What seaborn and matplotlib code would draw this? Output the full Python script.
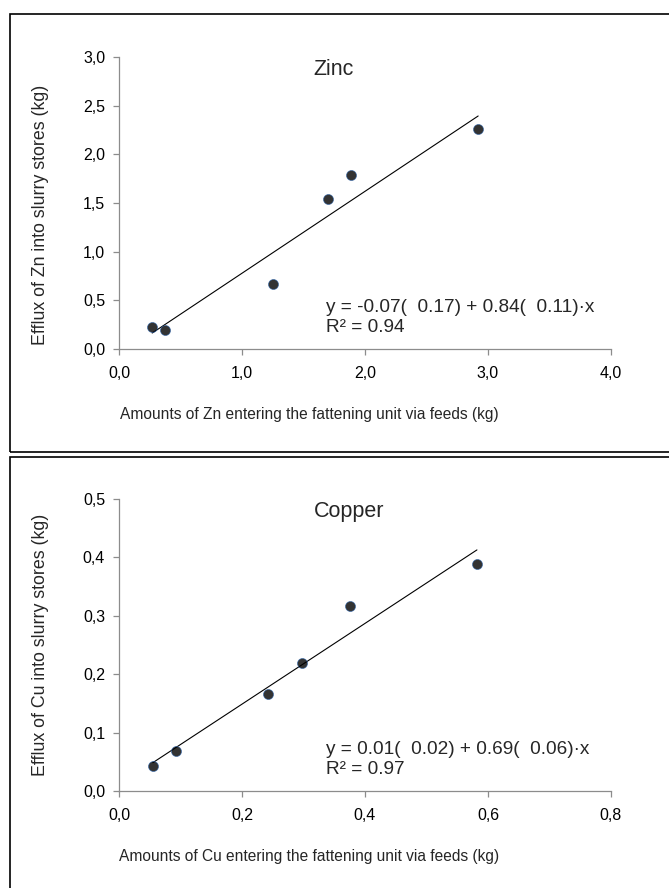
import matplotlib
matplotlib.use("Agg")
import numpy as np
import seaborn as sns
import matplotlib.pyplot as plt
from matplotlib.patches import Rectangle
from matplotlib.ticker import FuncFormatter

# data (kg)
zn_feed = [0.27, 0.37, 1.25, 1.70, 1.89, 2.92]
zn_slurry = [0.23, 0.20, 0.67, 1.54, 1.79, 2.26]
cu_feed = [0.055, 0.092, 0.242, 0.298, 0.376, 0.582]
cu_slurry = [0.042, 0.068, 0.166, 0.220, 0.316, 0.388]

zn_eq = "y = -0.07(  0.17) + 0.84(  0.11)\u00b7x\nR\u00b2 = 0.94"
cu_eq = "y = 0.01(  0.02) + 0.69(  0.06)\u00b7x\nR\u00b2 = 0.97"

sns.set_style("white")
plt.rcParams['font.family'] = ['Liberation Sans', 'DejaVu Sans']

fig = plt.figure(figsize=(6.69, 8.88), dpi=100)

# panel frames
fig.patches.append(Rectangle((10 / 669, 1 - 452 / 888), 670 / 669, 438 / 888,
                             transform=fig.transFigure, fill=False, ec='black', lw=1.2))
fig.patches.append(Rectangle((10 / 669, -0.05), 670 / 669, 1 - 457 / 888 + 0.05,
                             transform=fig.transFigure, fill=False, ec='black', lw=1.2))

ax1 = fig.add_axes([119 / 669, 1 - 349 / 888, 492 / 669, 292 / 888])
ax2 = fig.add_axes([119 / 669, 1 - 791 / 888, 492 / 669, 292 / 888])

comma = FuncFormatter(lambda v, p: f"{v:.1f}".replace('.', ','))

panels = [
    (ax1, zn_feed, zn_slurry, "Zinc", 0.437, zn_eq, 4.0, 1.0, 3.0, 0.5, "Zn"),
    (ax2, cu_feed, cu_slurry, "Copper", 0.467, cu_eq, 0.8, 0.2, 0.5, 0.1, "Cu"),
]

for ax, xs, ys, title, tx, eq, xmax, xstep, ymax, ystep, el in panels:
    sns.regplot(x=np.array(xs), y=np.array(ys), ax=ax, ci=None,
                scatter_kws=dict(s=52, color='black', edgecolors='#2f63a8', linewidths=0.5, zorder=3),
                line_kws=dict(color='black', lw=0.8, zorder=2))
    ax.set_xlim(0, xmax)
    ax.set_ylim(0, ymax)
    ax.set_xticks(np.arange(0, xmax + xstep / 2, xstep))
    ax.set_yticks(np.arange(0, ymax + ystep / 2, ystep))
    ax.xaxis.set_major_formatter(comma)
    ax.yaxis.set_major_formatter(comma)
    for s in ['top', 'right']:
        ax.spines[s].set_visible(False)
    for s in ['left', 'bottom']:
        ax.spines[s].set_color('#8c8c8c')
        ax.spines[s].set_linewidth(0.9)
    ax.tick_params(axis='both', direction='out', length=4, width=0.9, color='#8c8c8c',
                   labelsize=11.5, labelcolor='black', pad=6, bottom=True, left=True)
    ax.tick_params(axis='x', pad=8)
    ax.set_xlabel(f"Amounts of {el} entering the fattening unit via feeds (kg)", fontsize=11.2)
    ax.set_ylabel(f"Efflux of {el} into slurry stores (kg)", fontsize=12.8)
    ax.xaxis.set_label_coords(0.386, -0.197)
    ax.yaxis.set_label_coords(-0.142, 0.46 if el == "Zn" else 0.5)
    ax.text(tx, 0.958, title, transform=ax.transAxes, fontsize=15.5, ha='center', va='center')
    ax.text(0.42, 0.108, eq, transform=ax.transAxes, fontsize=13.7, ha='left', va='center',
            linespacing=1.2)

fig.savefig("out.png", dpi=100)
